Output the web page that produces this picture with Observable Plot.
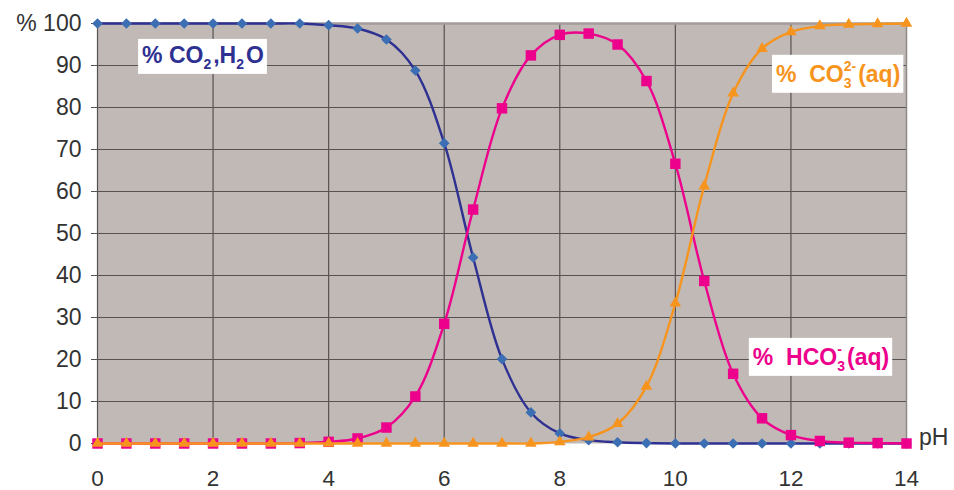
<!DOCTYPE html>
<html><head><meta charset="utf-8">
<script src="https://cdn.jsdelivr.net/npm/d3@7"></script>
<script src="https://cdn.jsdelivr.net/npm/@observablehq/plot@0.6"></script>
<style>body{margin:0;background:#fff}</style>
</head><body><div id="chart"></div>
<script>
// pH values (x categories)
const pH = [0,0.5,1,1.5,2,2.5,3,3.5,4,4.5,5,5.5,6,6.5,7,7.5,8,8.5,9,9.5,10,10.5,11,11.5,12,12.5,13,13.5,14];
// % CO2,H2O
const co2 = [100,100,100,100,100,100,100,100,99.6,98.8,96.2,88.8,71.5,44.3,20.1,7.4,2.4,0.8,0.3,0.1,0,0,0,0,0,0,0,0,0];
// % HCO3-
const hco3 = [0,0,0,0,0,0,0,0.1,0.4,1.2,3.8,11.2,28.5,55.7,79.8,92.4,97.3,97.6,95.0,86.3,66.6,38.7,16.6,6.0,2.0,0.6,0.2,0.1,0];
// % CO3 2-
const co3 = [0,0,0,0,0,0,0,0,0,0,0,0,0,0,0,0,0.4,1.5,4.7,13.6,33.4,61.3,83.4,94.0,98.0,99.4,99.8,99.9,100];
// ticks
const xTicks = [0,2,4,6,8,10,12,14];
const yTicks = [0,10,20,30,40,50,60,70,80,90,100];
// annotation labels (anchor in data units)
const labels = [
  {pH:0.78, pct:90.5, color:"#2e3192", parts:[{t:"% CO"},{sub:"2"},{t:",H"},{sub:"2"},{t:"O"}]},
  {pH:11.75, pct:86.0, color:"#f7941d", parts:[{t:"%  CO"},{sub:"3",sup:"2-"},{t:"(aq)"}]},
  {pH:11.35, pct:18.6, color:"#ec008c", parts:[{t:"%  HCO"},{sub:"3",sup:"-"},{t:"(aq)"}]}
];

const rows = pH.map((p,i)=>({pH:p, co2:co2[i], hco3:hco3[i], co3:co3[i]}));
const font = '"Liberation Sans", Arial, Helvetica, sans-serif';
const gridColor = "#575252";

const plot = Plot.plot({
  width:954, height:490,
  marginLeft:97, marginRight:48, marginTop:23, marginBottom:47,
  style:{fontFamily:font, fontSize:"23px", color:"#333", background:"#fff", overflow:"visible"},
  x:{domain:[0,14]},
  y:{domain:[0,100]},
  marks:[
    Plot.frame({fill:"#c1b9b6", stroke:null}),
    Plot.ruleX(xTicks.filter(d=>d<14), {stroke:gridColor, strokeWidth:1.2}),
    Plot.ruleX([14], {stroke:"#8e8a89", strokeWidth:1.5}),
    Plot.ruleY(yTicks.filter(d=>d>0 && d<100), {stroke:gridColor, strokeWidth:1.2}),
    Plot.ruleY([100], {stroke:"#a39d9b", strokeWidth:2.5}),
    Plot.axisX({ticks:xTicks, tickSize:0, tickPadding:27, fontSize:22.5, label:null}),
    Plot.axisY({ticks:yTicks, tickSize:6, tickPadding:10, fontSize:23, stroke:gridColor, label:null,
      tickFormat:d=>d===100?"% 100":String(d)}),
    Plot.line(rows,{x:"pH",y:"co2",stroke:"#2e3192",strokeWidth:2.4,curve:"catmull-rom"}),
    Plot.dot(rows,{x:"pH",y:"co2",symbol:"diamond2",r:4.8,fill:"#3c6eb4",stroke:null}),
    Plot.line(rows,{x:"pH",y:"hco3",stroke:"#ec008c",strokeWidth:2.4,curve:"catmull-rom"}),
    Plot.dot(rows,{x:"pH",y:"hco3",symbol:"square",r:5.9,fill:"#ec008c",stroke:null}),
    Plot.line(rows,{x:"pH",y:"co3",stroke:"#f7941d",strokeWidth:2.4,curve:"catmull-rom"}),
    Plot.dot(rows,{x:"pH",y:"co3",symbol:"triangle",r:4.3,fill:"#f7941d",stroke:null})
  ]
});
document.getElementById("chart").appendChild(plot);

const sx = plot.scale("x").apply, sy = plot.scale("y").apply;
const svg = d3.select(plot);

function addText(g, x, y, size, weight, color, str) {
  const t = g.append("text").attr("x", x).attr("y", y)
    .attr("text-anchor", "start")
    .style("font-family", font).style("font-size", size + "px").style("font-weight", weight)
    .attr("fill", color).text(str);
  return t.node().getComputedTextLength();
}

// pH axis label
addText(svg, sx(14)+13, sy(0)+2, 23, "normal", "#333", "pH");

// rich annotation labels with white boxes
for (const L of labels) {
  const g = svg.append("g");
  const x0 = sx(L.pH), y0 = sy(L.pct);
  let cx = x0;
  for (const p of L.parts) {
    if (p.t) {
      cx += addText(g, cx, y0, 23, "bold", L.color, p.t);
    } else {
      let w = 0;
      if (p.sup) w = Math.max(w, addText(g, cx, y0-11, 14, "bold", L.color, p.sup));
      if (p.sub) w = Math.max(w, addText(g, cx, y0+6, 14, "bold", L.color, p.sub));
      cx += w + 2;
    }
  }
  const b = g.node().getBBox();
  g.insert("rect", "text").attr("x", b.x-4).attr("y", b.y-3)
    .attr("width", b.width+7).attr("height", b.height+5).attr("fill", "#fff");
}
</script>
</body></html>
